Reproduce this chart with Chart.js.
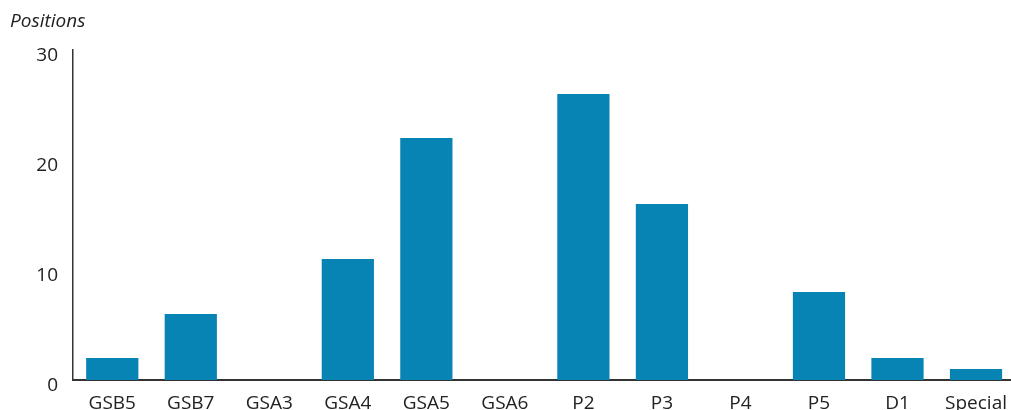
<!DOCTYPE html>
<html>
<head>
<meta charset="utf-8">
<script src="https://cdn.jsdelivr.net/npm/chart.js@4"></script>
<style>
  html, body { margin: 0; padding: 0; background: #fff; overflow: hidden; }
  #wrap { width: 1011px; height: 410px; overflow: hidden; }
</style>
</head>
<body>
<div id="wrap"><canvas id="chart" width="1019" height="410"></canvas></div>
<script>
// data
const categories = ["GSB5", "GSB7", "GSA3", "GSA4", "GSA5", "GSA6", "P2", "P3", "P4", "P5", "D1", "Special"];
const positions = [2, 6, 0, 11, 22, 0, 26, 16, 0, 8, 2, 1];
const yTicks = [0, 10, 20, 30];

const fontFamily = "'Open Sans', 'Noto Sans', sans-serif";

// y axis title drawn top-left
const axisTitle = {
  id: "axisTitle",
  afterDraw(chart) {
    const ctx = chart.ctx;
    ctx.save();
    ctx.font = "italic 19px " + fontFamily;
    ctx.fillStyle = "#222";
    ctx.textAlign = "left";
    ctx.textBaseline = "middle";
    ctx.fillText("Positions", 10, 22);
    ctx.restore();
  }
};

const ctx = document.getElementById("chart").getContext("2d");
new Chart(ctx, {
  type: "bar",
  data: {
    labels: categories,
    datasets: [{
      label: "Positions",
      data: positions,
      backgroundColor: "#0783b4",
      categoryPercentage: 1,
      barPercentage: 0.665
    }]
  },
  options: {
    responsive: false,
    animation: false,
    layout: { padding: { top: 50, right: 0, left: 0, bottom: 0 } },
    plugins: {
      legend: { display: false },
      tooltip: { enabled: false }
    },
    scales: {
      x: {
        grid: { display: false, drawTicks: false },
        border: { display: true, color: "#333", width: 2 },
        ticks: {
          color: "#222",
          font: { family: fontFamily, size: 19 },
          padding: 12,
          maxRotation: 0,
          autoSkip: false
        },
        afterFit(scale) { scale.height = 30; }
      },
      y: {
        min: 0,
        max: 30,
        grid: { display: false, drawTicks: false },
        border: { display: true, color: "#333", width: 1.5 },
        afterBuildTicks(scale) { scale.ticks = yTicks.map(v => ({ value: v })); },
        ticks: {
          color: "#222",
          font: { family: fontFamily, size: 19 },
          padding: 15,
          labelOffset: 6
        },
        afterFit(scale) { scale.width = 73; }
      }
    }
  },
  plugins: [axisTitle]
});
</script>
</body>
</html>
